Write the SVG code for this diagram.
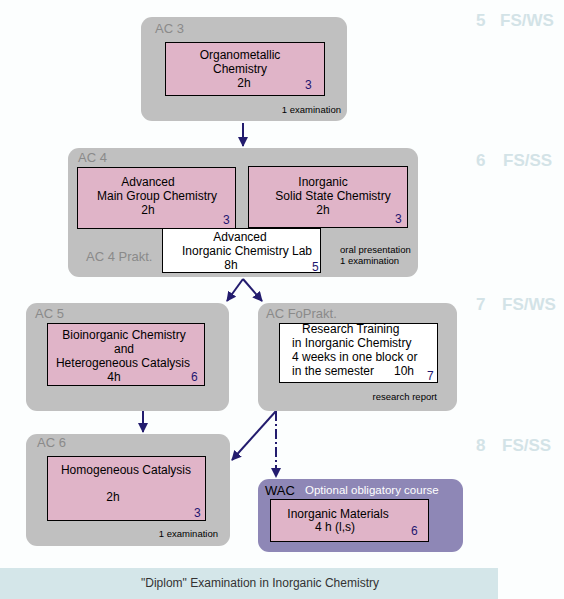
<svg xmlns="http://www.w3.org/2000/svg" width="564" height="599" viewBox="0 0 564 599">
<style>
text{font-family:"Liberation Sans",Arial,sans-serif;font-size:12px;fill:#000}
.outer{fill:#c0c0c0}
.pink{fill:#e0b4c8;stroke:#000;stroke-width:1}
.white{fill:#fff;stroke:#000;stroke-width:1}
.lbl{font-size:13px;fill:#8a8a8a}
.num{font-size:12px;fill:#1e1670}
.small{font-size:9.5px}
.sem{font-size:17px;font-weight:bold;fill:#d3e3e7}
.c{text-anchor:middle}
.e{text-anchor:end}
.conn{stroke:#231c6e;stroke-width:2;fill:none}
</style>
<defs>
<marker id="ah" viewBox="0 0 10 10" refX="9" refY="5" markerWidth="5" markerHeight="5" orient="auto" markerUnits="strokeWidth">
<path d="M0,0 L10,5 L0,10 z" fill="#231c6e"/>
</marker>
</defs>
<rect x="0" y="0" width="564" height="599" fill="#fcfefe"/>

<g id="semesters">
<text class="sem" x="476" y="26">5</text><text class="sem" x="500" y="26">FS/WS</text>
<text class="sem" x="476" y="166">6</text><text class="sem" x="503" y="166">FS/SS</text>
<text class="sem" x="476" y="310">7</text><text class="sem" x="502" y="310">FS/WS</text>
<text class="sem" x="476" y="451">8</text><text class="sem" x="502" y="451">FS/SS</text>
</g>

<g id="connectors">
<line class="conn" x1="243" y1="123" x2="243" y2="146" marker-end="url(#ah)"/>
<line class="conn" x1="243" y1="279" x2="227" y2="301" marker-end="url(#ah)"/>
<line class="conn" x1="243" y1="279" x2="262" y2="301" marker-end="url(#ah)"/>
<line class="conn" x1="143" y1="411" x2="143" y2="432" marker-end="url(#ah)"/>
<line class="conn" x1="276" y1="411" x2="232" y2="460" marker-end="url(#ah)"/>
<line class="conn" x1="276" y1="411" x2="276" y2="477" stroke-dasharray="10,3,2,3" marker-end="url(#ah)"/>
</g>

<g id="ac3">
<rect class="outer" x="141" y="17" width="206" height="104" rx="11"/>
<text class="lbl" x="155" y="33">AC 3</text>
<rect class="pink" x="165.5" y="42.5" width="159" height="53"/>
<text class="c" x="240" y="59">Organometallic</text>
<text class="c" x="240" y="73">Chemistry</text>
<text class="c" x="244" y="87">2h</text>
<text class="num" x="305" y="89">3</text>
<text class="small e" x="341" y="113">1 examination</text>
</g>

<g id="ac4">
<rect class="outer" x="68" y="148" width="350" height="129" rx="11"/>
<text class="lbl" x="78" y="162">AC 4</text>
<rect class="pink" x="77.5" y="167.5" width="158" height="61"/>
<text class="c" x="148" y="186">Advanced</text>
<text class="c" x="157" y="200">Main Group Chemistry</text>
<text class="c" x="148" y="214">2h</text>
<text class="num" x="223" y="224">3</text>
<rect class="pink" x="248.5" y="166.5" width="159" height="61"/>
<text class="c" x="323" y="186">Inorganic</text>
<text class="c" x="333" y="200">Solid State Chemistry</text>
<text class="c" x="323" y="214">2h</text>
<text class="num" x="395" y="223">3</text>
<rect class="white" x="162.5" y="228.5" width="158" height="44"/>
<text class="c" x="240" y="241">Advanced</text>
<text class="c" x="247" y="255">Inorganic Chemistry Lab</text>
<text class="c" x="231" y="269">8h</text>
<text class="num" x="312" y="271">5</text>
<text class="lbl" x="86" y="261">AC 4 Prakt.</text>
<text class="small" x="340" y="253">oral presentation</text>
<text class="small" x="340" y="264">1 examination</text>
</g>

<g id="ac5">
<rect class="outer" x="26" y="303" width="203" height="108" rx="11"/>
<text class="lbl" x="35" y="318">AC 5</text>
<rect class="pink" x="47.5" y="323.5" width="157" height="62"/>
<text class="c" x="124" y="339">Bioinorganic Chemistry</text>
<text class="c" x="124" y="353">and</text>
<text class="c" x="123" y="367">Heterogeneous Catalysis</text>
<text class="c" x="114" y="381">4h</text>
<text class="num" x="191" y="381">6</text>
</g>

<g id="acfoprakt">
<rect class="outer" x="258" y="303" width="199" height="108" rx="11"/>
<text class="lbl" x="266" y="318">AC FoPrakt.</text>
<rect class="white" x="279.5" y="323.5" width="158" height="59"/>
<text x="302" y="333">Research Training</text>
<text x="292" y="347">in Inorganic Chemistry</text>
<text x="292" y="361">4 weeks in one block or</text>
<text x="292" y="375">in the semester</text>
<text x="394" y="375">10h</text>
<text class="num" x="427" y="380">7</text>
<text class="small e" x="437" y="400">research report</text>
</g>

<g id="ac6">
<rect class="outer" x="26" y="434" width="204" height="112" rx="11"/>
<text class="lbl" x="37" y="447">AC 6</text>
<rect class="pink" x="47.5" y="456.5" width="158" height="64"/>
<text class="c" x="126" y="474">Homogeneous Catalysis</text>
<text class="c" x="113" y="501">2h</text>
<text class="num" x="194" y="517">3</text>
<text class="small e" x="218" y="537">1 examination</text>
</g>

<g id="wac">
<rect x="258" y="479" width="205" height="73" rx="11" fill="#8e87b6"/>
<text x="265" y="495" style="font-size:13px">WAC</text>
<text x="305" y="494" style="font-size:11.5px;fill:#fff">Optional obligatory course</text>
<rect class="pink" x="270.5" y="499.5" width="158" height="42"/>
<text class="c" x="338" y="518">Inorganic Materials</text>
<text class="c" x="335" y="531">4 h (l,s)</text>
<text class="num" x="411" y="535">6</text>
</g>

<g id="footer">
<rect x="0" y="568" width="498" height="31" fill="#d4e6e9"/>
<text class="c" x="260" y="587" style="fill:#333">"Diplom" Examination in Inorganic Chemistry</text>
</g>
</svg>
